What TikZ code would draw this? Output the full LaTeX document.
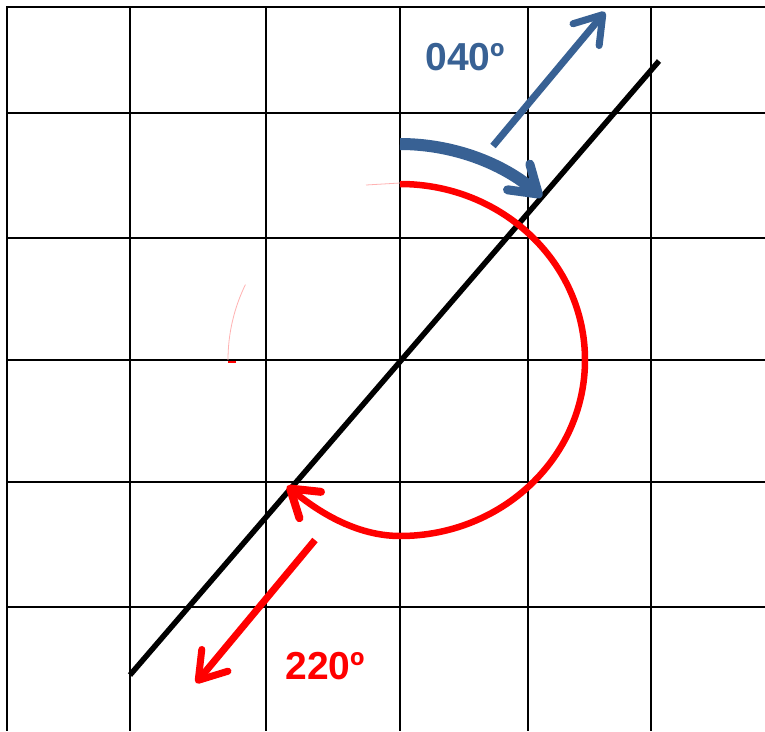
\documentclass[tikz,border=0pt]{standalone}
\usepackage{fontspec}
\setmainfont{Liberation Sans}
\usetikzlibrary{arrows.meta}
\definecolor{cblue}{RGB}{56,97,148}
\definecolor{cred}{RGB}{255,0,0}
\tikzset{
  gridline/.style={line width=2pt, draw=black},
  course/.style={line width=5.5pt, draw=black},
  redarc/.style={line width=6.5pt, draw=cred,
    -{Straight Barb[length=26pt, width=34pt, round, line width=8pt]}},
  bluearc/.style={line width=12pt, draw=cblue,
    -{Straight Barb[length=26pt, width=34pt, round, line width=9pt]}},
  redarrow/.style={line width=7pt, draw=cred,
    -{Straight Barb[length=26pt, width=34pt, round, line width=7pt]}},
  bluearrow/.style={line width=7pt, draw=cblue,
    -{Straight Barb[length=26pt, width=34pt, round, line width=7pt]}},
  lbl/.style={font=\bfseries\fontsize{39}{39}\selectfont, inner sep=0pt},
}
\begin{document}
\begin{tikzpicture}[x=1pt, y=-1pt]
\useasboundingbox (0,0) rectangle (765,731);
\fill[white] (0,0) rectangle (765,731);
% grid
\foreach \x in {7,130,266,400,528,651} \draw[gridline] (\x,6) -- (\x,731);
\foreach \y in {7,113,238,360,482,607} \draw[gridline] (6,\y) -- (765,\y);
% faint remnants
\draw[red!30, line width=0.8pt] (228,360) arc[start angle=180, end angle=206, radius=172];
\draw[red!30, line width=0.8pt] (366,185) -- (400,183);
\draw[cred, line width=2pt] (228,361.5) -- (236,361.5);
% course line
\coordinate (L1) at (130,675);
\coordinate (L2) at (659,61);
\draw[course] (L1) -- (L2);
% red arc
\coordinate (R0) at (400,184);
\coordinate (R1) at (287,486);
\draw[redarc] (R0) arc[start angle=-90, end angle=90, x radius=185, y radius=176]
  .. controls (350,536) and (309,504) .. (R1);
% blue arc
\coordinate (B0) at (400,144);
\draw[bluearc] (B0) arc[start angle=-90, end angle=-49, radius=216];
% straight arrows
\coordinate (b1) at (493,146);
\coordinate (b2) at (605,12);
\draw[bluearrow] (b1) -- (b2);
\coordinate (r1) at (315,540);
\coordinate (r2) at (196,683);
\draw[redarrow] (r1) -- (r2);
% labels
\node[lbl, text=cblue] (t040) at (465,57) {040º};
\node[lbl, text=cred] (t220) at (325,666) {220º};
\end{tikzpicture}
\end{document}
